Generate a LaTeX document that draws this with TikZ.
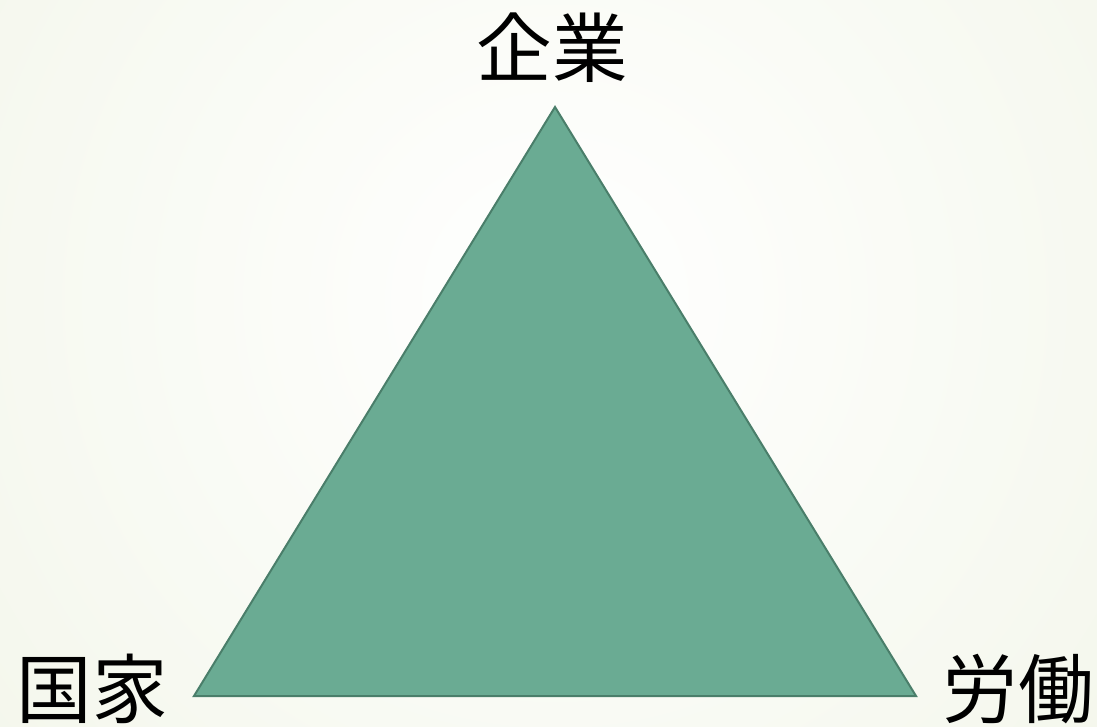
\documentclass[tikz,border=0pt]{standalone}
\usepackage{fontspec}
\newfontfamily\jpfont{Noto Sans CJK JP}
\definecolor{bgout}{RGB}{236,241,222}
\definecolor{trifill}{RGB}{106,171,147}
\definecolor{triline}{RGB}{74,126,106}
\tikzset{
  corner/.style={font=\jpfont\fontsize{43}{50}\selectfont, inner sep=0pt},
  tri/.style={fill=trifill, draw=triline, line width=0.04cm, line join=miter}
}

\begin{document}
\begin{tikzpicture}[x=0.02cm, y=-0.02cm]

        % Background with a soft radial glow
        \useasboundingbox (0,0) rectangle (1097,726);
        \begin{scope}
                \clip (0,0) rectangle (1097,726);
                \shade[inner color=white, outer color=bgout] (555,300) circle (1250);
        \end{scope}

        % Define the three corners of the triangle
        \coordinate (top) at (555,107);
        \coordinate (left) at (194,696);
        \coordinate (right) at (916,696);

        \draw[tri] (top) -- (left) -- (right) -- cycle;

        % Labels at the corners
        \node[corner] (kigyo) at (552,48) {企業};
        \node[corner] (kokka) at (92,689) {国家};
        \node[corner] (rodo) at (1018,689) {労働};
\end{tikzpicture}
\end{document}
